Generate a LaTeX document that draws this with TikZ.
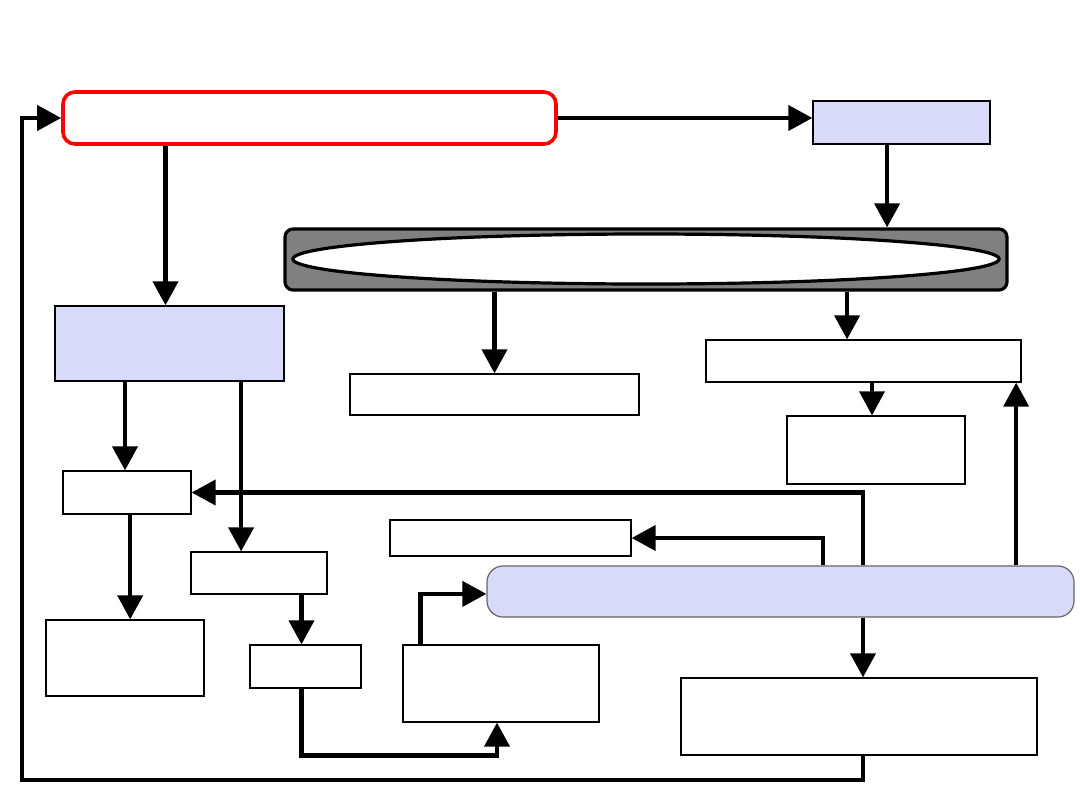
\documentclass[tikz,border=0pt]{standalone}
\usetikzlibrary{arrows.meta,fit,shapes.geometric}
\definecolor{lav}{RGB}{217,217,250}
\begin{document}
\begin{tikzpicture}[x=0.025cm,y=-0.025cm,
  box/.style={draw=black,line width=0.03cm,inner sep=0pt,fill=white},
  lbox/.style={box,fill=lav},
  arr/.style={-{Triangle[length=0.6cm,width=0.62cm]},line width=0.11cm,line join=miter},
  ln/.style={line width=0.11cm}]
\useasboundingbox (0,0) rectangle (1080,810);
% nodes
\node[draw=red,line width=0.09cm,rounded corners=0.3cm,inner sep=0pt,fit={(63,92) (556,144)}] (red) {};
\node[lbox,fit={(813,101) (990,144)}] (A) {};
\node[draw=black,fill=gray,line width=0.08cm,rounded corners=0.2cm,inner sep=0pt,fit={(285,229) (1007,290)}] (gray) {};
\node[ellipse,draw=black,fill=white,line width=0.08cm,minimum width=17.65cm,minimum height=1.25cm,inner sep=0pt] (ell) at (646,259) {};
\node[lbox,fit={(55,306) (284,381)}] (B) {};
\node[box,fit={(350,374) (639,415)}] (C) {};
\node[box,fit={(706,340) (1021,382)}] (D) {};
\node[box,fit={(787,416) (965,484)}] (E) {};
\node[box,fit={(63,471) (191,514)}] (F) {};
\node[box,fit={(191,552) (327,594)}] (G) {};
\node[box,fit={(46,620) (204,696)}] (H) {};
\node[box,fit={(250,645) (361,688)}] (I) {};
\node[box,fit={(403,645) (599,722)}] (J) {};
\node[box,fit={(390,520) (631,556)}] (K) {};
\node[draw=gray!80!black,line width=0.03cm,fill=lav,rounded corners=0.4cm,inner sep=0pt,fit={(487,566) (1074,617)}] (L) {};
\node[box,fit={(681,678) (1037,755)}] (M) {};
\coordinate (lp) at (22,780);
% connectors
\draw[arr] (red.east) -- (red.east -| A.west);
\draw[arr] ([xshift=-0.36cm]A.south) -- ([xshift=-0.36cm]A.south |- gray.north);
\draw[arr] ([xshift=-0.1cm]B.north |- red.south) -- ([xshift=-0.1cm]B.north);
\draw[arr] (C.north |- gray.south) -- (C.north);
\draw[arr] ([xshift=-0.41cm]D.north |- gray.south) -- ([xshift=-0.41cm]D.north);
\draw[arr] ([xshift=-0.1cm]E.north |- D.south) -- ([xshift=-0.1cm]E.north);
\draw[arr] ([xshift=-0.05cm]F.north |- B.south) -- ([xshift=-0.05cm]F.north);
\draw[arr] ([xshift=1.79cm]B.south) -- ([xshift=1.79cm]B.south |- G.north);
\draw[arr] ([xshift=0.08cm]F.south) -- ([xshift=0.08cm]F.south |- H.north);
\draw[arr] ([xshift=-0.1cm]I.north |- G.south) -- ([xshift=-0.1cm]I.north);
\draw[arr] ([xshift=-0.1cm]I.south) -- ++(0,67) -| ([xshift=-0.1cm]J.south);
\draw[arr] ([xshift=0.45cm]J.north west) |- ([yshift=-0.06cm]L.west);
\draw[arr] ([xshift=1.06cm]L.north) |- (K.east);
\draw[arr] ([xshift=2.06cm]L.north) |- (F.east);
\draw[arr] ([xshift=5.89cm]L.north) -- ([xshift=5.89cm]L.north |- D.south);
\draw[arr] ([xshift=0.1cm]M.north |- L.south) -- ([xshift=0.1cm]M.north);
\draw[arr] ([xshift=0.1cm]M.south) |- (lp) |- (red.west);
\end{tikzpicture}
\end{document}
